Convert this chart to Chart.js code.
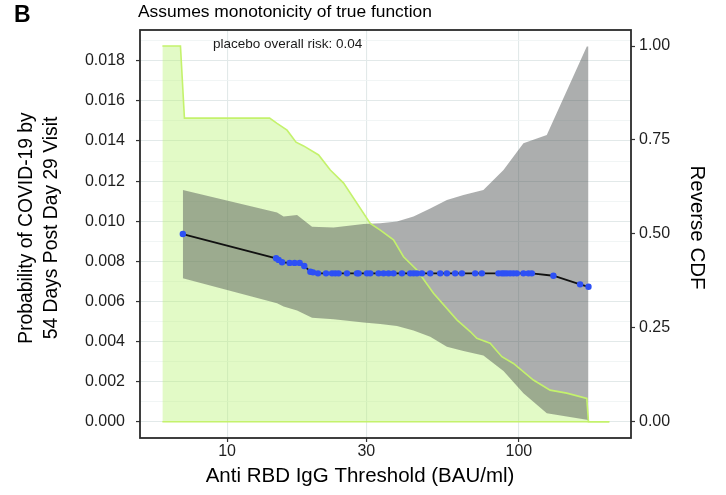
<!DOCTYPE html>
<html>
<head>
<meta charset="utf-8">
<script src="https://cdn.jsdelivr.net/npm/chart.js@4"></script>
<style>
html,body{margin:0;padding:0;background:#fff;}
canvas{display:block;}
</style>
</head>
<body>
<canvas id="c" width="726" height="495"></canvas>
<script>
// ---- data ----
const xTickVals = [10, 30, 100];
const yTickVals = [0, 0.002, 0.004, 0.006, 0.008, 0.010, 0.012, 0.014, 0.016, 0.018];
const yMinorVals = [0.001, 0.003, 0.005, 0.007, 0.009, 0.011, 0.013, 0.015, 0.017, 0.019];
const cdfTickVals = [0, 0.25, 0.5, 0.75, 1.0];

// estimated risk curve (points)
const xPoints = [7.05, 14.72, 15.02, 15.43, 16.38, 17.04, 17.73, 18.39, 19.29, 19.70,
  20.49, 21.83, 22.89, 23.49, 24.11, 25.76, 27.87, 28.23, 30.16, 30.95,
  33.05, 34.38, 35.76, 37.19, 39.75, 42.44, 43.55, 44.74, 46.54, 49.69,
  53.77, 56.68, 60.5, 63.8, 70.86, 74.7, 85.15, 87.47, 89.08, 90.99,
  93.38, 95.83, 98.44, 103.7, 107.9, 110.8, 131.4, 162.2, 173.3];
const yPoints = [0.00936, 0.00815, 0.00807, 0.00795, 0.00792, 0.00792, 0.00792, 0.00777, 0.00748, 0.00745,
  0.0074, 0.0074, 0.0074, 0.0074, 0.0074, 0.0074, 0.0074, 0.0074, 0.0074, 0.0074,
  0.0074, 0.0074, 0.0074, 0.0074, 0.0074, 0.0074, 0.0074, 0.0074, 0.0074, 0.0074,
  0.0074, 0.0074, 0.0074, 0.0074, 0.0074, 0.0074, 0.0074, 0.0074, 0.0074, 0.0074,
  0.0074, 0.0074, 0.0074, 0.0074, 0.0074, 0.0074, 0.00728, 0.00685, 0.00673];

// confidence band
const bandX = [7.05, 14.83, 15.62, 17.37, 19.55, 23.18, 29.37, 33.5, 38.22, 43.55,
  49.69, 56.68, 64.6, 75.6, 88.6, 103.7, 124.7, 171.0, 173.3];
const bandUpper = [0.01156, 0.01043, 0.01023, 0.01031, 0.00973, 0.00969, 0.00986, 0.0099, 0.00998, 0.01023,
  0.01064, 0.01106, 0.01131, 0.01156, 0.01256, 0.01389, 0.0143, 0.01871, 0.01871];
const bandLower = [0.00715, 0.00591, 0.00575, 0.00555, 0.00519, 0.00511, 0.00495, 0.00487, 0.00477, 0.00455,
  0.00424, 0.00374, 0.00353, 0.0033, 0.00253, 0.00142, 0.00042, 0.0001, 0.00005];

// reverse CDF
const cdfX = [6.0, 6.92, 7.14, 13.99, 14.83, 16.05, 17.23, 18.29, 20.59, 22.58,
  25.08, 30.95, 33.5, 37.19, 40.25, 44.74, 50.99, 61.33, 68.12, 71.81,
  79.74, 87.47, 95.83, 112.2, 128.0, 146.0, 171.0, 173.3, 204.3];
const cdfY = [1.0, 1.0, 0.808, 0.808, 0.794, 0.776, 0.744, 0.734, 0.71, 0.67,
  0.635, 0.528, 0.51, 0.484, 0.439, 0.404, 0.342, 0.271, 0.24, 0.222,
  0.209, 0.173, 0.155, 0.111, 0.084, 0.076, 0.062, 0, 0];

// ---- chart ----
const FONT = '"Liberation Sans", Arial, Helvetica, sans-serif';
const TICK_FONT = {family: FONT, size: 16};
const pts = (xs, ys) => xs.map((x, i) => ({x: x, y: ys[i]}));
const isMajor = v => Math.abs(Math.round(v * 1000)) % 2 === 0;
const GREEN_LINE = 'rgb(196,242,108)';

const deco = {
  id: 'deco',
  beforeDraw(chart) {
    const c = chart.ctx;
    c.save(); c.fillStyle = '#fff'; c.fillRect(0, 0, chart.width, chart.height); c.restore();
  },
  afterDatasetsDraw(chart) {
    const c = chart.ctx, a = chart.chartArea;
    c.save();
    c.strokeStyle = '#2b2b2b'; c.lineWidth = 1.8;
    c.strokeRect(a.left, a.top, a.right - a.left, a.bottom - a.top);
    c.restore();
  },
  afterDraw(chart) {
    const c = chart.ctx;
    c.save();
    c.fillStyle = '#000';
    c.textBaseline = 'alphabetic';
    c.textAlign = 'left';
    c.font = 'bold 23px ' + FONT;
    c.fillText('B', 14, 22);
    c.font = '17.4px ' + FONT;
    c.fillText('Assumes monotonicity of true function', 138, 17);
    c.fillStyle = '#1a1a1a';
    c.font = '13.5px ' + FONT;
    c.fillText('placebo overall risk: 0.04', 213, 48);
    c.fillStyle = '#000';
    c.textAlign = 'center';
    c.font = '20.5px ' + FONT;
    c.fillText('Anti RBD IgG Threshold (BAU/ml)', 360, 482);
    c.textBaseline = 'middle';
    c.font = '19.3px ' + FONT;
    c.save(); c.translate(27, 228); c.rotate(-Math.PI / 2);
    c.fillText('Probability of COVID-19 by', 0, 0); c.restore();
    c.save(); c.translate(52, 228); c.rotate(-Math.PI / 2);
    c.fillText('54 Days Post Day 29 Visit', 0, 0); c.restore();
    c.font = '20.5px ' + FONT;
    c.save(); c.translate(697, 227.5); c.rotate(Math.PI / 2);
    c.fillText('Reverse CDF', 0, 0); c.restore();
    c.restore();
  }
};

new Chart(document.getElementById('c'), {
  type: 'scatter',
  data: {
    datasets: [
      { // 0 risk curve
        data: pts(xPoints, yPoints), yAxisID: 'y', showLine: true, order: 0,
        borderColor: '#111', borderWidth: 1.8, tension: 0,
        pointRadius: 3.2, pointBackgroundColor: 'rgb(45,80,245)', pointBorderWidth: 0, pointHoverRadius: 3.2
      },
      { // 1 cdf line
        data: pts(cdfX, cdfY), yAxisID: 'y2', showLine: true, order: 1,
        borderColor: GREEN_LINE, borderWidth: 1.6, pointRadius: 0, tension: 0, fill: false
      },
      { // 2 cdf baseline
        data: [{x: cdfX[0], y: 0}, {x: cdfX[cdfX.length - 1], y: 0}], yAxisID: 'y2', showLine: true, order: 1,
        borderColor: GREEN_LINE, borderWidth: 1.6, pointRadius: 0, fill: false
      },
      { // 3 band upper
        data: pts(bandX, bandUpper), yAxisID: 'y', showLine: true, order: 2,
        borderWidth: 0, borderColor: 'rgba(0,0,0,0)', pointRadius: 0, tension: 0,
        fill: {target: 4}, backgroundColor: 'rgba(74,78,78,0.46)'
      },
      { // 4 band lower
        data: pts(bandX, bandLower), yAxisID: 'y', showLine: true, order: 3,
        borderWidth: 0, borderColor: 'rgba(0,0,0,0)', pointRadius: 0, tension: 0, fill: false
      },
      { // 5 cdf fill
        data: pts(cdfX, cdfY), yAxisID: 'y2', showLine: true, order: 4,
        borderWidth: 0, borderColor: 'rgba(0,0,0,0)', pointRadius: 0, tension: 0,
        fill: 'origin', backgroundColor: 'rgba(186,244,120,0.42)'
      }
    ]
  },
  options: {
    responsive: false, animation: false, devicePixelRatio: 1,
    layout: {padding: {top: 30, left: 0, right: 0, bottom: 0}},
    plugins: {legend: {display: false}, tooltip: {enabled: false}},
    scales: {
      x: {
        type: 'logarithmic', min: 5.028, max: 242.4,
        afterBuildTicks: s => { s.ticks = xTickVals.map(v => ({value: v})); },
        afterFit: s => { s.height = 57; },
        ticks: {callback: v => String(v), font: TICK_FONT, color: '#1e1e1e', padding: 0, autoSkip: false, maxRotation: 0},
        grid: {color: '#e2e9e9', lineWidth: 1.1, tickLength: 4, tickColor: '#333', tickWidth: 1.2},
        border: {display: false}
      },
      y: {
        type: 'linear', position: 'left', min: -0.000813, max: 0.019538,
        afterBuildTicks: s => { s.ticks = yTickVals.concat(yMinorVals).sort((a, b) => a - b).map(v => ({value: v})); },
        afterFit: s => { s.width = 140; },
        ticks: {callback: v => isMajor(v) ? v.toFixed(3) : '', font: TICK_FONT, color: '#1e1e1e', padding: 11, autoSkip: false},
        grid: {
          color: ctx => (ctx.tick && isMajor(ctx.tick.value)) ? '#e2e9e9' : '#edf2f2',
          lineWidth: ctx => (ctx.tick && isMajor(ctx.tick.value)) ? 1.1 : 0.8,
          tickLength: 4,
          tickColor: ctx => (ctx.tick && isMajor(ctx.tick.value)) ? '#333' : 'rgba(0,0,0,0)',
          tickWidth: 1.2
        },
        border: {display: false}
      },
      y2: {
        type: 'linear', position: 'right', min: -0.0434, max: 1.0426,
        afterBuildTicks: s => { s.ticks = cdfTickVals.map(v => ({value: v})); },
        afterFit: s => { s.width = 95; },
        ticks: {callback: v => v.toFixed(2), font: TICK_FONT, color: '#1e1e1e', padding: 4, autoSkip: false},
        grid: {drawOnChartArea: false, tickLength: 4, tickColor: '#333', tickWidth: 1.2},
        border: {display: false}
      }
    }
  },
  plugins: [deco]
});
</script>
</body>
</html>
